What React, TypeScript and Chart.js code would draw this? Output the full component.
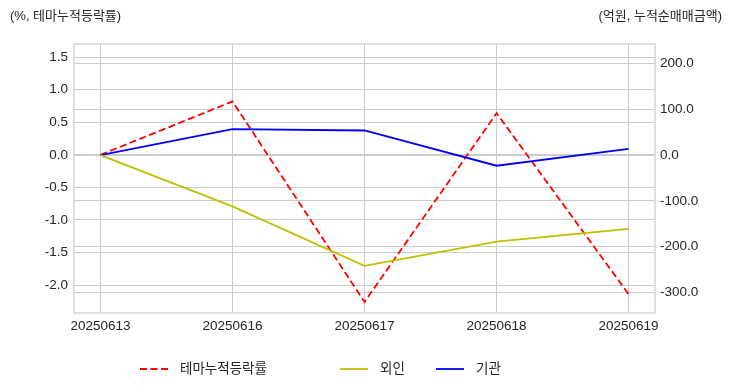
import React, { useEffect, useRef } from 'react';
import { Chart, registerables } from 'chart.js';

Chart.register(...registerables);

const dates = ['20250613', '20250616', '20250617', '20250618', '20250619'];
const themeReturn = [0.0, 0.82, -2.26, 0.64, -2.14];
const foreignNet = [0.0, -112, -242, -189, -161];
const instNet = [0.0, 57, 54, -23, 14];
const leftTicks = [-2.0, -1.5, -1.0, -0.5, 0.0, 0.5, 1.0, 1.5];
const rightTicks = [-300, -200, -100, 0, 100, 200];
const leftTitle = '(%, 테마누적등락률)';
const rightTitle = '(억원, 누적순매매금액)';
const seriesNames = ['테마누적등락률', '외인', '기관'];

const FONT = '"Liberation Sans", Arial, "Noto Sans CJK KR", sans-serif';
const TEXT = '#262626';
const GRID = '#cccccc';
const TICK_SIZE = 13.5;

const decorPlugin = {
  id: 'decor',
  beforeDatasetsDraw(chart: any) {
    const ctx = chart.ctx;
    const a = chart.chartArea;
    ctx.save();
    ctx.strokeStyle = GRID;
    ctx.lineWidth = 1.25;
    ctx.strokeRect(a.left, a.top, a.right - a.left, a.bottom - a.top);
    ctx.restore();
  },
  afterDraw(chart: any) {
    const ctx = chart.ctx;
    ctx.save();
    ctx.font = '13px ' + FONT;
    ctx.fillStyle = TEXT;
    ctx.textBaseline = 'middle';
    ctx.textAlign = 'left';
    ctx.fillText(leftTitle, 10, 16);
    ctx.textAlign = 'right';
    ctx.fillText(rightTitle, 722, 16);

    // legend
    const order = [2, 0, 1];
    const starts = [140, 340, 436];
    const ly = 369;
    ctx.font = '13.5px ' + FONT;
    order.forEach((di, k) => {
      const ds = chart.data.datasets[di];
      const x0 = starts[k];
      ctx.save();
      ctx.strokeStyle = ds.borderColor;
      ctx.lineWidth = ds.borderWidth;
      ctx.setLineDash(ds.borderDash || []);
      ctx.beginPath();
      ctx.moveTo(x0, ly);
      ctx.lineTo(x0 + 28, ly);
      ctx.stroke();
      ctx.restore();
      ctx.fillStyle = TEXT;
      ctx.textAlign = 'left';
      ctx.textBaseline = 'middle';
      ctx.fillText(ds.label, x0 + 40, ly);
    });
    ctx.restore();
  },
};

export default function App() {
  const ref = useRef<HTMLCanvasElement | null>(null);

  useEffect(() => {
    if (!ref.current) return;
    const chart = new Chart(ref.current, {
      type: 'line',
      data: {
        datasets: [
          {
            label: seriesNames[1],
            data: foreignNet.map((v, i) => ({ x: i, y: v })),
            yAxisID: 'y2',
            borderColor: '#bfbf00',
            backgroundColor: '#bfbf00',
            borderWidth: 1.8,
            pointRadius: 0,
            tension: 0,
          },
          {
            label: seriesNames[2],
            data: instNet.map((v, i) => ({ x: i, y: v })),
            yAxisID: 'y2',
            borderColor: '#0000ff',
            backgroundColor: '#0000ff',
            borderWidth: 1.8,
            pointRadius: 0,
            tension: 0,
          },
          {
            label: seriesNames[0],
            data: themeReturn.map((v, i) => ({ x: i, y: v })),
            yAxisID: 'y',
            borderColor: '#ff0000',
            backgroundColor: '#ff0000',
            borderWidth: 1.8,
            borderDash: [7, 3.5],
            pointRadius: 0,
            tension: 0,
          },
        ],
      },
      options: {
        responsive: false,
        animation: false,
        layout: { padding: { top: 44, left: 0, right: 0, bottom: 0 } },
        plugins: {
          legend: { display: false },
          tooltip: { enabled: false },
        },
        scales: {
          x: {
            type: 'linear',
            min: -0.2,
            max: 4.2,
            afterBuildTicks: (axis: any) => {
              axis.ticks = dates.map((_, i) => ({ value: i }));
            },
            afterFit: (axis: any) => {
              axis.height = 79;
            },
            ticks: {
              callback: (v: any) => dates[v as number] ?? '',
              color: TEXT,
              font: { family: FONT, size: TICK_SIZE },
              padding: 5,
              maxRotation: 0,
              autoSkip: false,
            },
            grid: { color: GRID, lineWidth: 1, drawTicks: false },
            border: { display: false },
          },
          y: {
            type: 'linear',
            position: 'left',
            min: -2.43,
            max: 1.703,
            afterBuildTicks: (axis: any) => {
              axis.ticks = leftTicks.map((v) => ({ value: v }));
            },
            afterFit: (axis: any) => {
              axis.width = 74;
            },
            ticks: {
              callback: (v: any) => Number(v).toFixed(1),
              color: TEXT,
              font: { family: FONT, size: TICK_SIZE },
              padding: 6,
            },
            grid: { color: GRID, lineWidth: 1, drawTicks: false },
            border: { display: false },
          },
          y2: {
            type: 'linear',
            position: 'right',
            min: -344.9,
            max: 243,
            afterBuildTicks: (axis: any) => {
              axis.ticks = rightTicks.map((v) => ({ value: v }));
            },
            afterFit: (axis: any) => {
              axis.width = 77;
            },
            ticks: {
              callback: (v: any) => Number(v).toFixed(1),
              color: TEXT,
              font: { family: FONT, size: TICK_SIZE },
              padding: 5,
            },
            grid: { color: GRID, lineWidth: 1, drawTicks: false },
            border: { display: false },
          },
        },
      },
      plugins: [decorPlugin],
    });
    return () => chart.destroy();
  }, []);

  return (
    <div style={{ position: 'fixed', left: 0, top: 0, width: 732, height: 392, background: '#fff' }}>
      <canvas ref={ref} width={732} height={392} />
    </div>
  );
}
